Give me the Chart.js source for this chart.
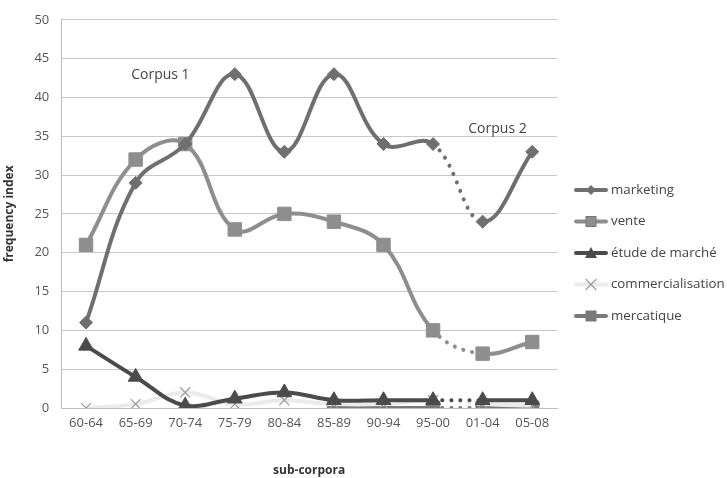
<!DOCTYPE html>
<html lang="en">
<head>
<meta charset="UTF-8">
<script src="https://cdn.jsdelivr.net/npm/chart.js"></script>
<style>
  html, body { margin: 0; padding: 0; background: #fff; }
  #wrap { width: 727px; height: 478px; }
</style>
<title>frequency index</title>
</head>
<body>
<div id="wrap"><canvas id="grafico"></canvas></div>
<script>
// categories (sub-corpora)
const periodos = ['60-64', '65-69', '70-74', '75-79', '80-84', '85-89', '90-94', '95-00', '01-04', '05-08'];

// series values
const marketing = [11, 29, 34, 43, 33, 43, 34, 34, 24, 33];
const vente = [21, 32, 34, 23, 25, 24, 21, 10, 7, 8.5];
const etude = [8, 4, 0.3, 1.2, 2, 1, 1, 1, 1, 1];
const commercialisation = [0, 0.5, 2, 0.5, 1, 0.5, 0.5, 1, 0.5, 0.3];
const mercatique = [null, null, null, null, null, 0, 0, 0, 0, 0];

const yTicks = [0, 5, 10, 15, 20, 25, 30, 35, 40, 45, 50];

const fonte = '"Open Sans", "Liberation Sans", sans-serif';

// segment between 95-00 and 01-04 is drawn dotted
const pontilhado = {
    borderDash: ctx => ctx.p0DataIndex === 7 ? [0.1, 9] : undefined,
    borderCapStyle: ctx => ctx.p0DataIndex === 7 ? 'round' : 'butt'
};

function serie(label, data, cor, estilo, raio, largura) {
    return {
        label: label,
        data: data,
        borderColor: cor,
        backgroundColor: cor,
        pointBackgroundColor: cor,
        pointBorderColor: estilo === 'crossRot' ? '#9a9a9a' : cor,
        pointBorderWidth: estilo === 'crossRot' ? 1.2 : 1,
        pointStyle: estilo,
        pointRadius: raio,
        borderWidth: largura,
        tension: 0.4,
        fill: false,
        spanGaps: false,
        segment: pontilhado
    };
}

// draws one legend sample: short line with the marker in the middle
function desenhaIcone(g, x0, cy, cor, estilo, marcadorCor) {
    g.save();
    g.strokeStyle = cor;
    g.lineWidth = 4;
    g.lineCap = 'round';
    g.beginPath(); g.moveTo(x0 + 2, cy); g.lineTo(x0 + 32, cy); g.stroke();
    g.fillStyle = marcadorCor;
    g.strokeStyle = marcadorCor;
    g.lineWidth = 1;
    const cx = x0 + 17;
    if (estilo === 'rectRot') {
        g.beginPath(); g.moveTo(cx, cy - 5); g.lineTo(cx + 5, cy); g.lineTo(cx, cy + 5); g.lineTo(cx - 5, cy); g.closePath(); g.fill();
    } else if (estilo === 'rect') {
        g.fillRect(cx - 5, cy - 5, 10, 10);
        g.strokeStyle = '#777'; g.strokeRect(cx - 5, cy - 5, 10, 10);
    } else if (estilo === 'triangle') {
        g.beginPath(); g.moveTo(cx, cy - 6); g.lineTo(cx + 6, cy + 5); g.lineTo(cx - 6, cy + 5); g.closePath(); g.fill();
    } else if (estilo === 'crossRot') {
        g.strokeStyle = '#9a9a9a'; g.lineWidth = 1.2;
        g.beginPath(); g.moveTo(cx - 5, cy - 5); g.lineTo(cx + 5, cy + 5); g.moveTo(cx + 5, cy - 5); g.lineTo(cx - 5, cy + 5); g.stroke();
    }
    g.restore();
}

const estilosLegenda = [
    ['#6f6f6f', 'rectRot', '#6f6f6f'],
    ['#8e8e8e', 'rect', '#8e8e8e'],
    ['#4b4b4b', 'triangle', '#4b4b4b'],
    ['#ebebeb', 'crossRot', '#9a9a9a'],
    ['#7a7a7a', 'rect', '#7a7a7a']
];

// legend on the right, drawn by hand so it sits like the original
const legendaManual = {
    id: 'legendaManual',
    afterDraw(chart) {
        const ctx = chart.ctx;
        const x0 = chart.chartArea.right + 17;
        ctx.save();
        ctx.font = '13.3px ' + fonte;
        ctx.fillStyle = '#444';
        ctx.textAlign = 'left';
        ctx.textBaseline = 'middle';
        chart.data.datasets.forEach((ds, i) => {
            const y = 190 + i * 31.5;
            const e = estilosLegenda[i];
            desenhaIcone(ctx, x0, y, e[0], e[1], e[2]);
            ctx.fillText(ds.label, x0 + 37, y);
        });
        ctx.restore();
    }
};

// "Corpus 1" / "Corpus 2" labels
const rotulosCorpus = {
    id: 'rotulosCorpus',
    afterDatasetsDraw(chart) {
        const ctx = chart.ctx;
        const x = chart.scales.x;
        const y = chart.scales.y;
        ctx.save();
        ctx.font = '14px ' + fonte;
        ctx.fillStyle = '#444';
        ctx.textAlign = 'center';
        ctx.textBaseline = 'middle';
        ctx.fillText('Corpus 1', x.getPixelForValue(1.5), y.getPixelForValue(42.9));
        ctx.fillText('Corpus 2', x.getPixelForValue(8.3), y.getPixelForValue(35.9));
        ctx.restore();
    }
};

const dados = {
    labels: periodos,
    datasets: [
        serie('marketing', marketing, '#6f6f6f', 'rectRot', 6.5, 4),
        serie('vente', vente, '#8e8e8e', 'rect', 9.5, 4),
        serie('étude de marché', etude, '#4b4b4b', 'triangle', 8.5, 4),
        serie('commercialisation', commercialisation, '#ebebeb', 'crossRot', 7, 4),
        serie('mercatique', mercatique, '#7a7a7a', 'rect', 9.5, 4)
    ]
};

const config = {
    type: 'line',
    data: dados,
    options: {
        responsive: true,
        maintainAspectRatio: false,
        animation: false,
        layout: { padding: { top: 4, right: 170, left: 2, bottom: 0 } },
        plugins: {
            legend: { display: false },
            tooltip: { enabled: false }
        },
        scales: {
            x: {
                offset: true,
                grid: { display: false, drawTicks: false },
                border: { display: true, color: '#bdbdbd', width: 1 },
                ticks: { color: '#555', font: { family: fonte, size: 13 }, padding: 7, maxRotation: 0 },
                title: {
                    display: true,
                    text: 'sub-corpora',
                    color: '#333',
                    font: { family: fonte, size: 12, weight: 'bold' },
                    padding: { top: 26, bottom: 0 }
                }
            },
            y: {
                min: 0,
                max: 50,
                afterBuildTicks(axis) {
                    axis.ticks = yTicks.map(v => ({ value: v }));
                },
                grid: { color: '#c8c8c8', drawTicks: false },
                border: { display: true, color: '#bdbdbd', width: 1 },
                ticks: { color: '#555', font: { family: fonte, size: 13 }, padding: 12 },
                title: {
                    display: true,
                    text: 'frequency index',
                    color: '#333',
                    font: { family: fonte, size: 12, weight: 'bold' },
                    padding: { top: 0, bottom: 6 }
                }
            }
        }
    },
    plugins: [rotulosCorpus, legendaManual]
};

new Chart(document.getElementById('grafico'), config);
</script>
</body>
</html>
